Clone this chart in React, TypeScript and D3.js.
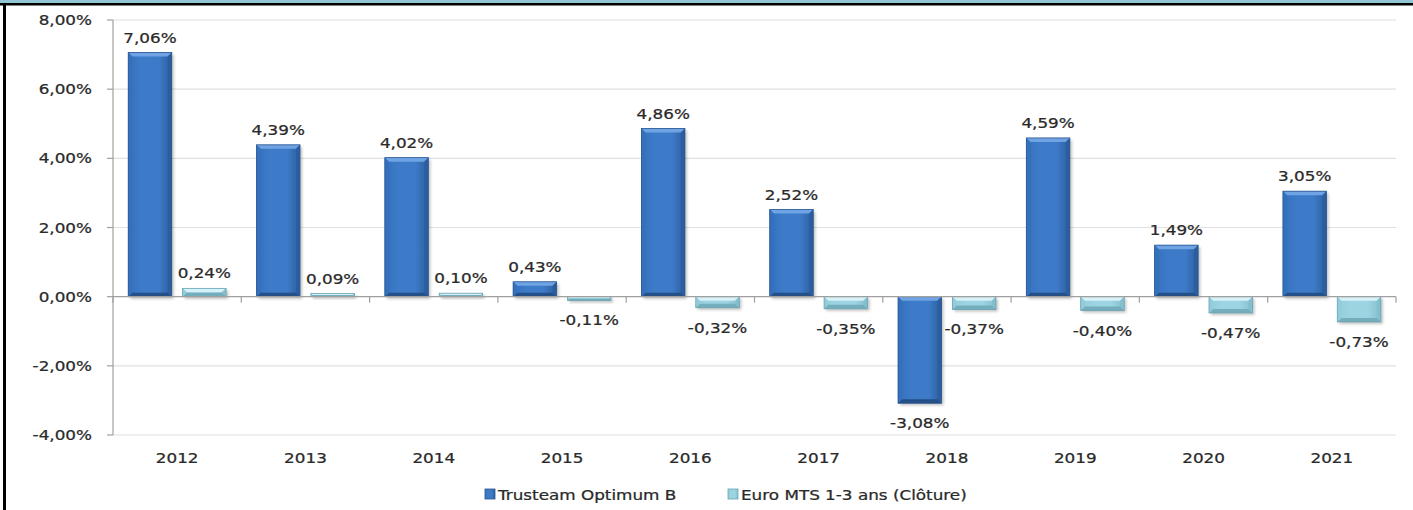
import React from 'react';
import * as d3 from 'd3';

const years = ['2012', '2013', '2014', '2015', '2016', '2017', '2018', '2019', '2020', '2021'];
const trusteam = [7.06, 4.39, 4.02, 0.43, 4.86, 2.52, -3.08, 4.59, 1.49, 3.05];
const euroMTS = [0.24, 0.09, 0.10, -0.11, -0.32, -0.35, -0.37, -0.40, -0.47, -0.73];
const yTicks = [-4, -2, 0, 2, 4, 6, 8];
const seriesNames = ['Trusteam Optimum B', 'Euro MTS 1-3 ans (Clôture)'];

const W = 1413;
const H = 510;
const left = 113;
const right = 1396;
const top = 20;
const bottom = 435;
const FONT = 'DejaVu Sans, Verdana, sans-serif';
const SX = 1.2;
const TXT = '#2a2a2a';

const fmt = (v: number) => v.toFixed(2).replace('.', ',') + '%';

const styles = [
  { light: '#6fa3e3', mid: '#3d7bc8', edgeL: '#3470bc', edgeR: '#2c5e9f', dark: '#244f87', stroke: '#2a5791' },
  { light: '#d6f1f7', mid: '#9dd4e1', edgeL: '#93cddb', edgeR: '#84bfcd', dark: '#74aebc', stroke: '#6aa5b3' },
];

function T(props: { x: number; y: number; anchor?: string; size?: number; children: React.ReactNode }) {
  const { x, y, anchor = 'middle', size = 14, children } = props;
  return (
    <text
      transform={`translate(${x},${y}) scale(${SX},1)`}
      textAnchor={anchor}
      fontFamily={FONT}
      fontSize={size}
      fill={TXT}
      stroke={TXT}
      strokeWidth={0.25}
    >
      {children}
    </text>
  );
}

function Bar(props: { x: number; y: number; w: number; h: number; s: number }) {
  const { x, y, w, h, s } = props;
  const st = styles[s];
  const e = Math.max(0, Math.min(4, h / 2));
  return (
    <g>
      <rect x={x + 2} y={y + 2} width={w} height={h} fill="#000" opacity={0.25} filter="url(#blur)" />
      <rect x={x} y={y} width={w} height={h} fill={`url(#grad${s})`} />
      {e > 0 && (
        <>
          <polygon points={`${x},${y} ${x + w},${y} ${x + w - e},${y + e} ${x + e},${y + e}`} fill={st.light} />
          <polygon points={`${x},${y + h} ${x + w},${y + h} ${x + w - e},${y + h - e} ${x + e},${y + h - e}`} fill={st.dark} />
          <polygon points={`${x},${y} ${x + e},${y + e} ${x + e},${y + h - e} ${x},${y + h}`} fill={st.edgeL} />
          <polygon points={`${x + w},${y} ${x + w - e},${y + e} ${x + w - e},${y + h - e} ${x + w},${y + h}`} fill={st.edgeR} />
        </>
      )}
      <rect x={x} y={y} width={w} height={h} fill="none" stroke={st.stroke} strokeWidth={0.8} />
    </g>
  );
}

export default function App() {
  const y = d3.scaleLinear().domain([-4, 8]).range([bottom, top]);
  const x0 = d3.scaleBand<string>().domain(years).range([left, right]).paddingInner(0).paddingOuter(0);
  const x1 = d3.scaleBand<number>().domain([0, 1]).range([0, x0.bandwidth()]).paddingInner(0.2).paddingOuter(0.28);
  const y0 = y(0);
  const series = [trusteam, euroMTS];

  return (
    <svg width={W} height={H} style={{ position: 'absolute', left: 0, top: 0, background: '#fff' }}>
      <defs>
        <filter id="blur" x="-20%" y="-20%" width="140%" height="140%">
          <feGaussianBlur stdDeviation="1.5" />
        </filter>
        {styles.map((st, i) => (
          <linearGradient key={i} id={`grad${i}`} x1="0" x2="1" y1="0" y2="0">
            <stop offset="0%" stopColor={st.edgeL} />
            <stop offset="30%" stopColor={st.mid} />
            <stop offset="70%" stopColor={st.mid} />
            <stop offset="100%" stopColor={st.edgeR} />
          </linearGradient>
        ))}
      </defs>
      <rect x={0} y={0} width={W} height={H} fill="#fff" />
      {/* frame */}
      <rect x={0} y={0} width={W} height={3} fill="#93c6d4" />
      <rect x={0} y={3} width={W} height={2.5} fill="#000" />
      <rect x={3} y={3} width={3} height={H - 3} fill="#000" />

      {/* gridlines */}
      {yTicks.filter((t) => t !== 0).map((t) => (
        <line key={t} x1={left} x2={right} y1={y(t)} y2={y(t)} stroke="#e0e0e0" strokeWidth={1.2} />
      ))}

      {/* bars */}
      {years.map((yr, i) =>
        series.map((data, s) => {
          const v = data[i];
          const bx = (x0(yr) as number) + (x1(s) as number);
          const by = Math.min(y(v), y0);
          const bh = Math.abs(y(v) - y0);
          return <Bar key={yr + s} x={bx} y={by} w={x1.bandwidth()} h={bh} s={s} />;
        })
      )}

      {/* axes */}
      <line x1={left} x2={left} y1={top} y2={bottom} stroke="#a0a0a0" strokeWidth={1.2} />
      {yTicks.map((t) => (
        <g key={t}>
          <line x1={left - 6} x2={left} y1={y(t)} y2={y(t)} stroke="#a0a0a0" strokeWidth={1.2} />
          <T x={92} y={y(t) + 5} anchor="end">{fmt(t)}</T>
        </g>
      ))}
      <line x1={left} x2={right} y1={y0} y2={y0} stroke="#a0a0a0" strokeWidth={1.2} />
      {years.map((yr, i) => (
        <line key={'tk' + i} x1={x0(yr) as number} x2={x0(yr) as number} y1={y0} y2={y0 + 6} stroke="#a0a0a0" strokeWidth={1.2} />
      ))}
      <line x1={right} x2={right} y1={y0} y2={y0 + 6} stroke="#a0a0a0" strokeWidth={1.2} />
      {years.map((yr) => (
        <T key={'xl' + yr} x={(x0(yr) as number) + x0.bandwidth() / 2} y={463}>{yr}</T>
      ))}

      {/* data labels */}
      {years.map((yr, i) =>
        series.map((data, s) => {
          const v = data[i];
          const cx = (x0(yr) as number) + (x1(s) as number) + x1.bandwidth() / 2;
          const ly = v >= 0 ? y(v) - 10 : y(v) + 25;
          return <T key={'lb' + yr + s} x={cx} y={ly}>{fmt(v)}</T>;
        })
      )}

      {/* legend */}
      <rect x={485} y={489} width={10} height={10} fill="url(#grad0)" stroke={styles[0].stroke} strokeWidth={0.8} />
      <T x={498} y={500} anchor="start">{seriesNames[0]}</T>
      <rect x={728} y={489} width={10} height={10} fill="url(#grad1)" stroke={styles[1].stroke} strokeWidth={0.8} />
      <T x={741} y={500} anchor="start">{seriesNames[1]}</T>
    </svg>
  );
}
